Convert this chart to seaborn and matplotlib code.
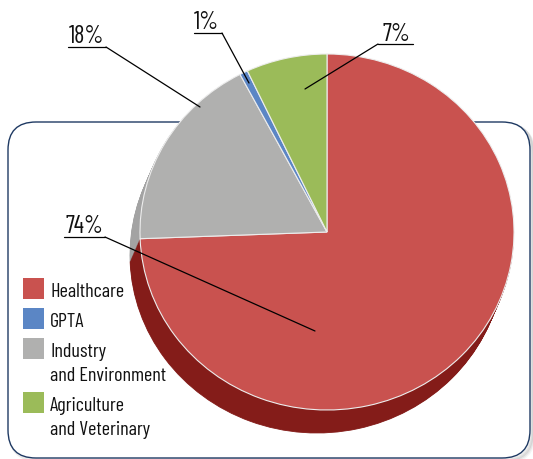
import matplotlib
matplotlib.use("Agg")
import matplotlib.pyplot as plt
from matplotlib.patches import FancyBboxPatch, Rectangle
import seaborn as sns

# -----------------------------------------------------------------------------
# DATA (clockwise from 12 o'clock, as the slices sit in the pie)
# -----------------------------------------------------------------------------
pie_sectors = ["Healthcare", "Industry and Environment", "GPTA", "Agriculture and Veterinary"]
pie_values = [74.4, 17.9, 0.7, 7.0]

# legend order
legend_sectors = ["Healthcare", "GPTA", "Industry and Environment", "Agriculture and Veterinary"]
legend_labels = ["Healthcare", "GPTA", "Industry\nand Environment", "Agriculture\nand Veterinary"]

top_colors = {
    "Healthcare": "#C9524F",
    "GPTA": "#5B86C5",
    "Industry and Environment": "#B0B0AF",
    "Agriculture and Veterinary": "#9BBB59",
}
side_colors = {
    "Healthcare": "#841C19",
    "GPTA": "#3F6CA6",
    "Industry and Environment": "#A3A3A3",
    "Agriculture and Veterinary": "#789440",
}

# -----------------------------------------------------------------------------
# SETUP
# -----------------------------------------------------------------------------
sns.set_style("white")
plt.rcParams["font.family"] = ["Barlow Condensed", "DejaVu Sans"]

W, H = 533, 459
fig = plt.figure(figsize=(W / 100, H / 100), dpi=100)

# background axes in pixel units: rounded frame
bg = fig.add_axes([0, 0, 1, 1])
bg.set_xlim(0, W)
bg.set_ylim(H, 0)
bg.axis("off")

for i, a in enumerate([0.04, 0.06, 0.08]):
    off = 4 - i
    bg.add_patch(FancyBboxPatch((8 + off, 122 + off), 522, 336,
                                boxstyle="round,pad=0,rounding_size=28",
                                facecolor="none", edgecolor="black",
                                linewidth=2.5, alpha=a))
bg.add_patch(FancyBboxPatch((8, 122), 522, 336,
                            boxstyle="round,pad=0,rounding_size=28",
                            facecolor="white", edgecolor="#1F3A63", linewidth=1.0))

# pie axes: unit radius maps to an ellipse rx x ry pixels
cx, cy, rx, ry = 327, 232, 187, 178
pa = fig.add_axes([0, 0, 1, 1])
pa.patch.set_alpha(0)

# extruded side: stack darker copies from the bottom up
n = 24
for k in range(n, 0, -1):
    t = k / n
    pa.pie(pie_values, startangle=90, counterclock=False,
           center=(-10 * t / rx, -23 * t / ry), radius=1,
           colors=[side_colors[s] for s in pie_sectors],
           wedgeprops=dict(linewidth=0.6))
    for w in pa.patches[-len(pie_values):]:
        w.set_edgecolor(w.get_facecolor())

# top face
pa.pie(pie_values, startangle=90, counterclock=False, radius=1,
       colors=[top_colors[s] for s in pie_sectors],
       wedgeprops=dict(linewidth=0.8, edgecolor="#EDEDED"))

pa.set_aspect("auto")
pa.set_xlim(-cx / rx, (W - cx) / rx)
pa.set_ylim((cy - H) / ry, cy / ry)
pa.axis("off")

# overlay axes in pixel units: labels, leader lines, legend
ov = fig.add_axes([0, 0, 1, 1])
ov.set_xlim(0, W)
ov.set_ylim(H, 0)
ov.patch.set_alpha(0)
ov.axis("off")

# (text x, baseline y, alignment, underline x0, x1, underline y, leader start x, leader end x, y)
label_layout = {
    "Industry and Environment": (69, 43, "left", 68, 106, 47, 106, 200, 107),
    "GPTA": (194, 29, "left", 194, 222, 33, 222, 249, 83),
    "Agriculture and Veterinary": (410, 41, "right", 378, 413, 44, 378, 305, 89),
    "Healthcare": (65, 233, "left", 64, 105, 237, 105, 315, 331),
}
for sector, value in zip(pie_sectors, pie_values):
    tx, ty, ha, ux0, ux1, uy, sx, lx, ly = label_layout[sector]
    ov.text(tx, ty, f"{round(value)}%", fontsize=17.5, ha=ha, va="baseline",
            color="#111111")
    ov.plot([ux0, ux1], [uy, uy], color="black", linewidth=0.9)
    ov.plot([sx, lx], [uy, ly], color="black", linewidth=0.9)

# legend drawn by hand so multi-line entries align with their first line
legend_tops = [278, 308, 338, 392]
for sector, label, top in zip(legend_sectors, legend_labels, legend_tops):
    ov.add_patch(Rectangle((23, top), 21, 21, facecolor=top_colors[sector],
                           edgecolor="none"))
    for j, line in enumerate(label.split("\n")):
        ov.text(50, top + 19 + 24 * j, line, fontsize=14.5, ha="left",
                va="baseline", color="#111111")

fig.savefig("out.png", dpi=100)
